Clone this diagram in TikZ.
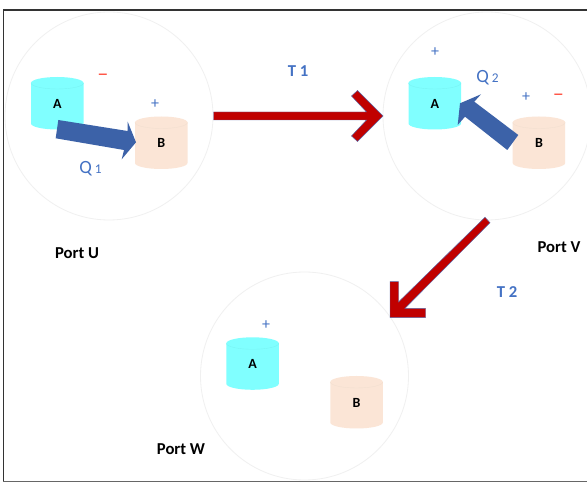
\documentclass[tikz,border=0pt]{standalone}
\usepackage{fontspec}
\setmainfont{Carlito}
\definecolor{ringc}{HTML}{F0F0F0}
\definecolor{cyanc}{HTML}{80FFFF}
\definecolor{cyanl}{HTML}{78F4F4}
\definecolor{peachc}{HTML}{FBE5D6}
\definecolor{peachl}{HTML}{F2DFD0}
\definecolor{bluearrow}{HTML}{3C62A8}
\definecolor{redarrow}{HTML}{C00000}
\definecolor{redline}{HTML}{5A68A8}
\definecolor{labelblue}{HTML}{4472C4}
\definecolor{minusred}{HTML}{FF5040}
\tikzset{
  ring/.style={circle,draw=ringc,line width=0.6pt,minimum size=156pt,inner sep=0pt},
  blockarrow/.style={fill=bluearrow,draw=none},
  redblock/.style={fill=redarrow,draw=redline,line width=0.35pt,line join=miter},
  portlabel/.style={font=\bfseries\fontsize{12.5}{14}\selectfont,text=black,inner sep=0pt},
  tlabel/.style={font=\bfseries\fontsize{12.5}{14}\selectfont,text=labelblue,inner sep=0pt},
  qlabel/.style={text=labelblue,inner sep=0pt},
  signp/.style={font=\fontsize{12}{14}\selectfont,text=labelblue,inner sep=0pt},
  signm/.style={font=\fontsize{16}{18}\selectfont,text=minusred,inner sep=0pt},
  cyllabel/.style={font=\bfseries\fontsize{10.5}{12}\selectfont,text=black,inner sep=0pt}
}
% #1 name, #2 left x, #3 top y, #4 fill, #5 rim colour, #6 letter
\newcommand{\drumshape}[6]{%
  \fill[#4] (#2,#3+6) -- (#2,#3+46.5) arc[start angle=180,end angle=360,x radius=26.25,y radius=-6]
     -- (#2+52.5,#3+6) arc[start angle=0,end angle=180,x radius=26.25,y radius=-6] -- cycle;
  \draw[#5,line width=0.3pt] (#2,#3+6) arc[start angle=180,end angle=360,x radius=26.25,y radius=-6];
  \node[cyllabel] (#1) at (#2+26.25,#3+26.5) {#6};
}
\begin{document}
\begin{tikzpicture}[x=0.75pt,y=-0.75pt]
\useasboundingbox (0,0) rectangle (587,484);
\fill[white] (0,0) rectangle (587,484);
% frame
\draw[black!80,line width=0.9pt] (3.5,481.5) -- (3.5,10) -- (587,10);
\draw[black!60,line width=0.9pt] (3.5,481.5) -- (587,481.5);
% rings
\node[ring] (ringU) at (109,116) {};
\node[ring] (ringV) at (487,116) {};
\node[ring] (ringW) at (304.5,376) {};
% drums
\drumshape{aU}{31}{77}{cyanc}{cyanl}{A}
\drumshape{bU}{135}{116.5}{peachc}{peachl}{B}
\drumshape{aV}{408.5}{77}{cyanc}{cyanl}{A}
\drumshape{bV}{512.7}{116.5}{peachc}{peachl}{B}
\drumshape{aW}{226.3}{337.3}{cyanc}{cyanl}{A}
\drumshape{bW}{330.3}{376}{peachc}{peachl}{B}
% blue arrows
\fill[blockarrow] (58.3,120) -- (127.5,131) -- (127.7,121.7) -- (136,142.3) -- (121.7,159.3) -- (124,150) -- (55.7,138.3) -- cycle;
\fill[blockarrow] (481,94.3) -- (460,103.3) -- (457.7,125) -- (465,116.7) -- (507.3,150) -- (518.3,135) -- (474.3,101.7) -- cycle;
% red arrows
\draw[redblock] (213.5,112) -- (366.5,112) -- (351.5,96) -- (357.5,90.5) -- (383,116) -- (357.5,141.5) -- (351.5,136) -- (366.5,120) -- (213.5,120) -- cycle;
\draw[redblock] (485,217.3) -- (490,222.7) -- (405,308.3) -- (425.5,308.3) -- (425.5,317.7) -- (390,317.7) -- (390,281.7) -- (398.5,281.7) -- (398.5,302) -- cycle;
% labels
\node[portlabel] (portU) at (77,253.5) {Port U};
\node[portlabel] (portV) at (559,247.5) {Port V};
\node[portlabel] (portW) at (181,449.5) {Port W};
\node[tlabel] (t1) at (298,71) {T 1};
\node[tlabel] (t2) at (507,292) {T 2};
\node[qlabel] (q1) at (90.5,169) {\fontsize{14}{16}\selectfont Q\,\fontsize{10}{12}\selectfont 1};
\node[qlabel] (q2) at (487.5,78) {\fontsize{14}{16}\selectfont Q\,\fontsize{10}{12}\selectfont 2};
\node[signm] (m1) at (103,78) {\textminus};
\node[signm] (m2) at (558.5,97.5) {\textminus};
\node[signp] (p1) at (155,104) {+};
\node[signp] (p2) at (435,52) {+};
\node[signp] (p3) at (526,97) {+};
\node[signp] (p4) at (266,325.5) {+};
\end{tikzpicture}
\end{document}
